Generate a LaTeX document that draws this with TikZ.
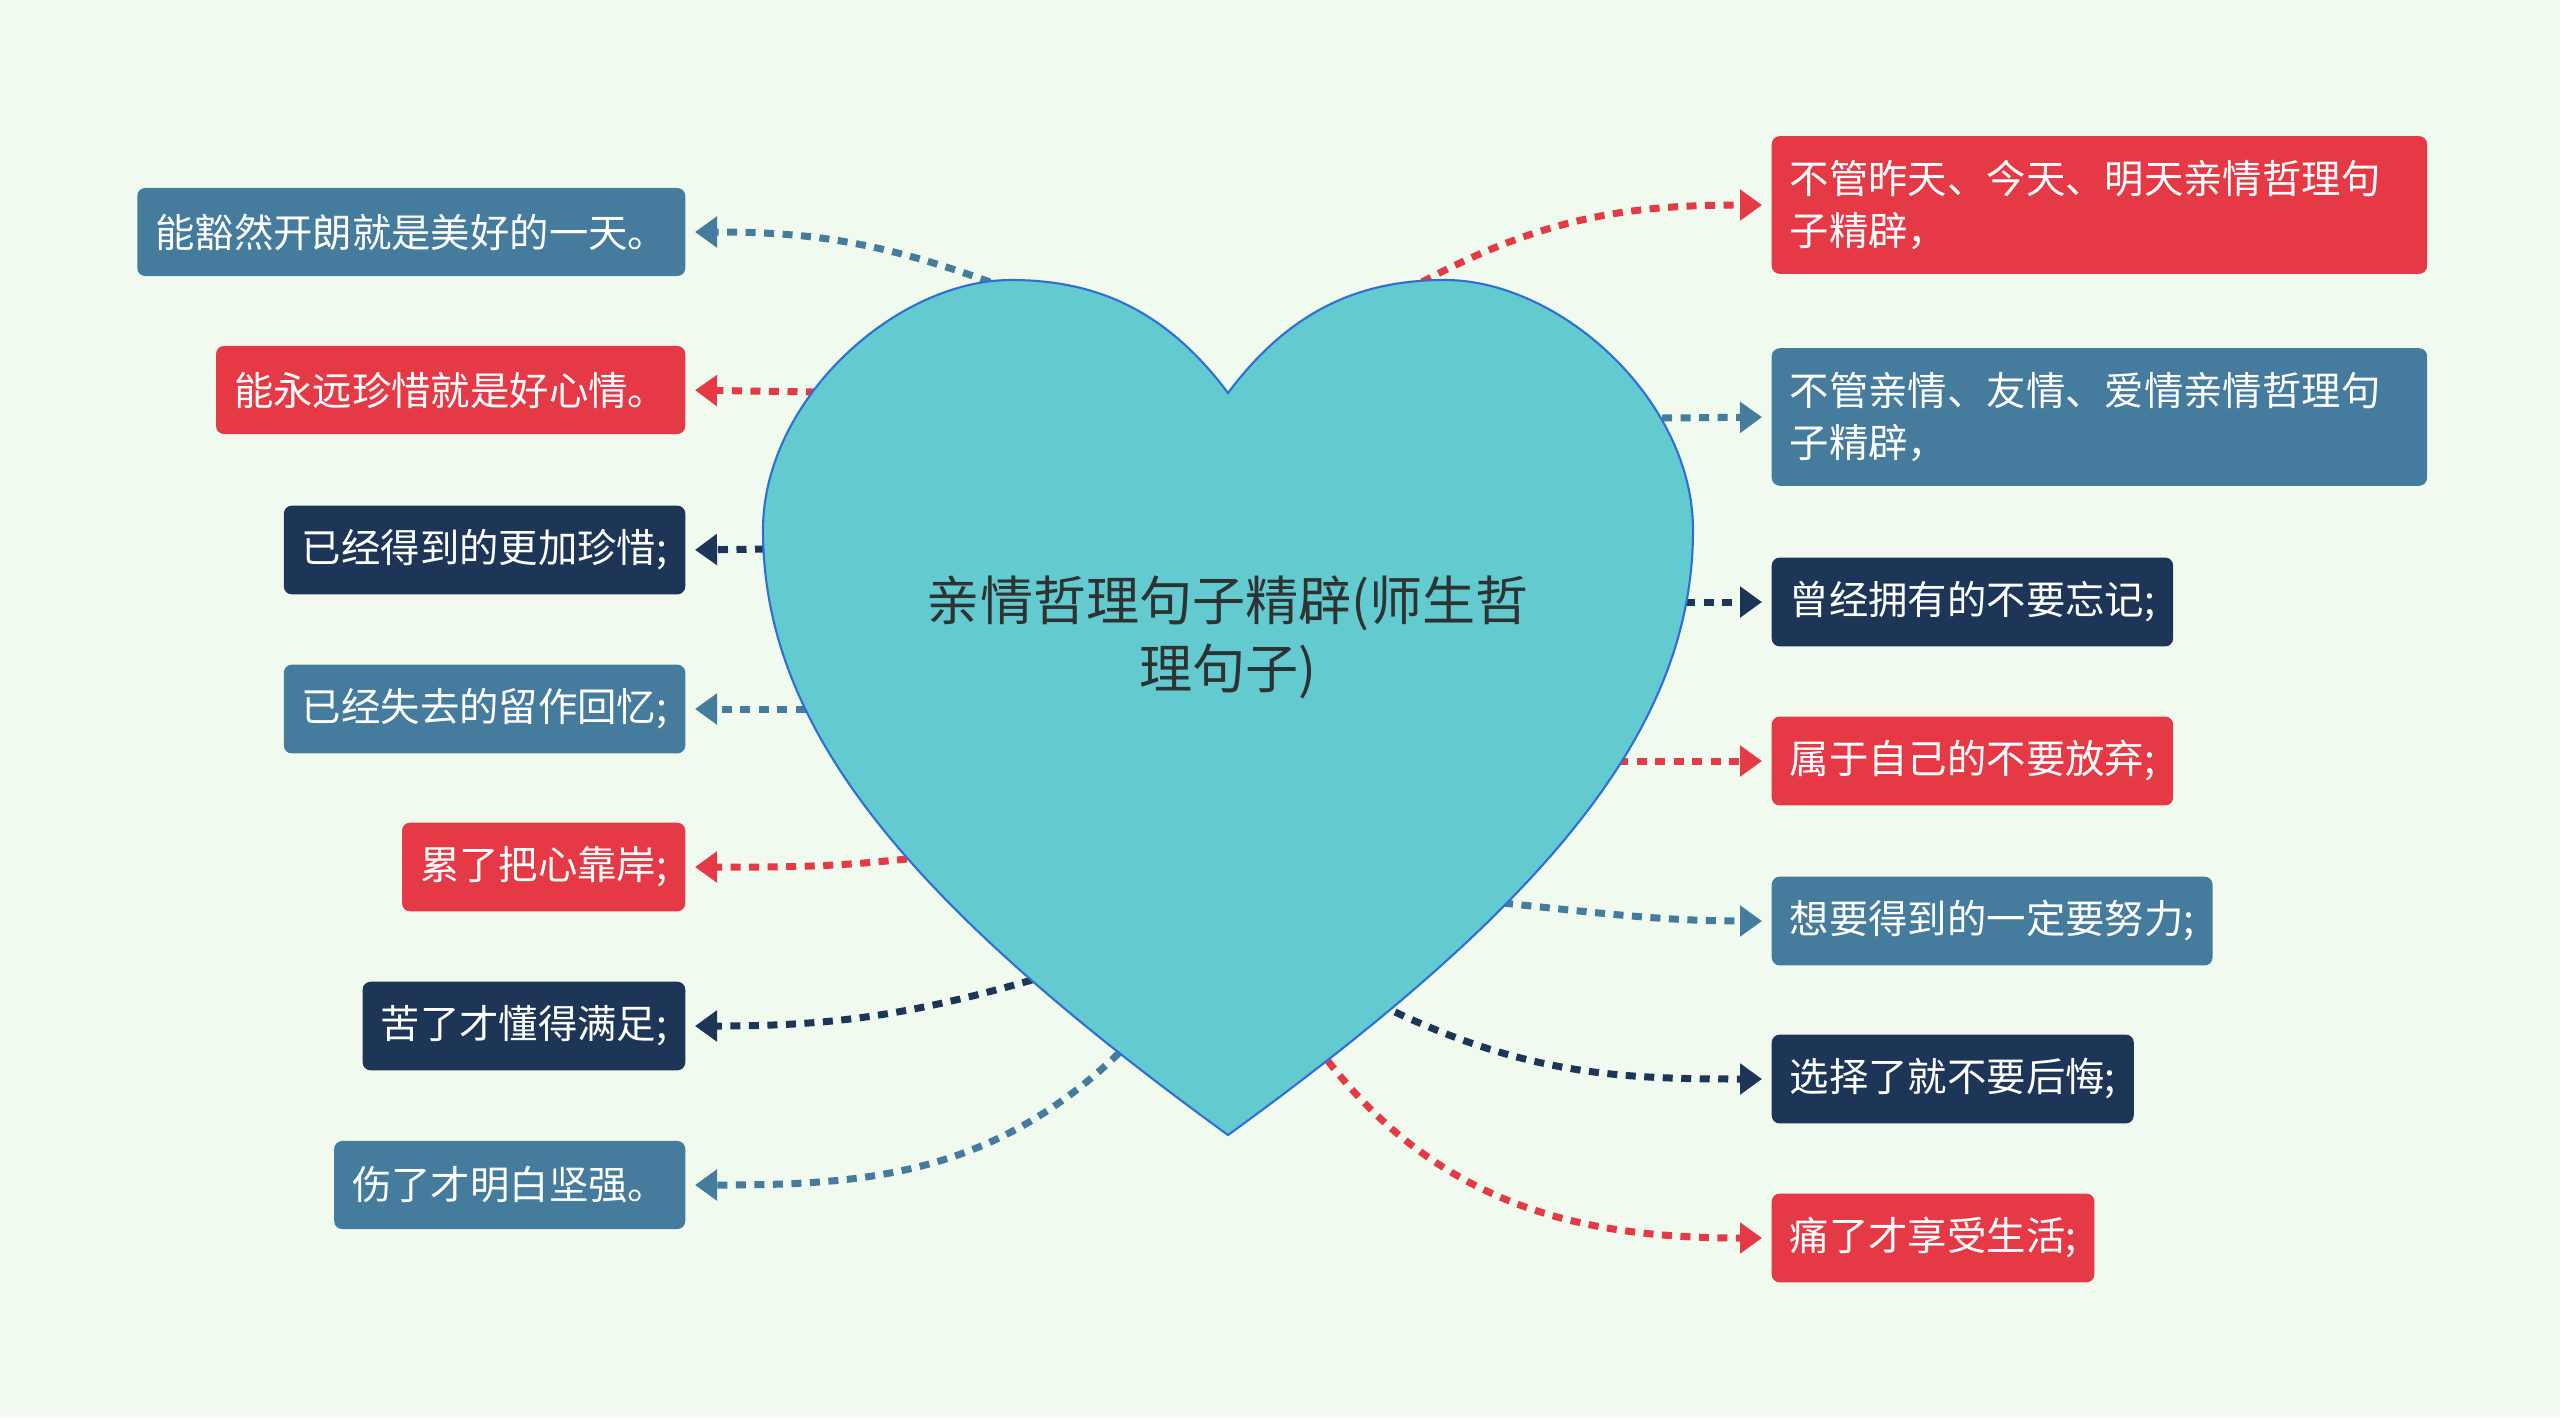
\documentclass[tikz,border=0pt]{standalone}
\usepackage{fontspec}
\setmainfont{Noto Sans CJK SC}
\usetikzlibrary{arrows.meta}
\definecolor{QinMint}{RGB}{241,250,238}
\definecolor{QinRed}{RGB}{230,57,70}
\definecolor{QinSteel}{RGB}{69,123,157}
\definecolor{QinNavy}{RGB}{29,53,87}
\definecolor{QinTeal}{RGB}{99,203,207}
\definecolor{QinEdge}{RGB}{46,111,214}
\definecolor{QinInk}{RGB}{45,50,50}
\tikzset{
  qin/box/.style={
    rounded corners=0.08cm,
    text=white,
    align=left,
    minimum height=0.88cm,
    inner xsep=0.18cm,
    inner ysep=0.24cm,
    font=\fontsize{11.2}{14.8}\selectfont
  },
  qin/wide/.style={qin/box, text width=6.19cm},
  qin/link/.style={
    -{Triangle[length=0.22cm,width=0.3cm]},
    line width=0.07cm,
    dash pattern=on 0.1cm off 0.085cm,
    shorten >=0.09cm
  },
  qin/heart/.style={fill=QinTeal, draw=QinEdge, line width=0.6pt},
  qin/title/.style={font=\fontsize{15.1}{19.3}\selectfont, text=QinInk, align=center}
}

\begin{document}
\begin{tikzpicture}[x=0.01cm,y=-0.01cm]
  \fill[QinMint] (0,0) rectangle (2560,1417);

  % left branch
  \node[qin/box,fill=QinSteel,anchor=east] (l1) at (686,232) {能豁然开朗就是美好的一天。};
  \node[qin/box,fill=QinRed,anchor=east] (l2) at (686,390) {能永远珍惜就是好心情。};
  \node[qin/box,fill=QinNavy,anchor=east] (l3) at (686,550) {已经得到的更加珍惜;};
  \node[qin/box,fill=QinSteel,anchor=east] (l4) at (686,709) {已经失去的留作回忆;};
  \node[qin/box,fill=QinRed,anchor=east] (l5) at (686,867) {累了把心靠岸;};
  \node[qin/box,fill=QinNavy,anchor=east] (l6) at (686,1026) {苦了才懂得满足;};
  \node[qin/box,fill=QinSteel,anchor=east] (l7) at (686,1185) {伤了才明白坚强。};

  % right branch
  \node[qin/wide,fill=QinRed,anchor=west] (r1) at (1771,205) {不管昨天、今天、明天亲情哲理句\\子精辟，};
  \node[qin/wide,fill=QinSteel,anchor=west] (r2) at (1771,417) {不管亲情、友情、爱情亲情哲理句\\子精辟，};
  \node[qin/box,fill=QinNavy,anchor=west] (r3) at (1771,602) {曾经拥有的不要忘记;};
  \node[qin/box,fill=QinRed,anchor=west] (r4) at (1771,761) {属于自己的不要放弃;};
  \node[qin/box,fill=QinSteel,anchor=west] (r5) at (1771,921) {想要得到的一定要努力;};
  \node[qin/box,fill=QinNavy,anchor=west] (r6) at (1771,1079) {选择了就不要后悔;};
  \node[qin/box,fill=QinRed,anchor=west] (r7) at (1771,1238) {痛了才享受生活;};

  % points on the heart outline
  \coordinate (e1) at (990,282);
  \coordinate (e2) at (816,392);
  \coordinate (e3) at (765,549);
  \coordinate (e4) at (806,709);
  \coordinate (e5) at (907,859);
  \coordinate (e6) at (1032,980);
  \coordinate (e7) at (1119,1053);
  \coordinate (f1) at (1422,282);
  \coordinate (f2) at (1662,418);
  \coordinate (f3) at (1685,602);
  \coordinate (f4) at (1618,761);
  \coordinate (f5) at (1503,903);
  \coordinate (f6) at (1395,1012);
  \coordinate (f7) at (1328,1061);

  \draw[qin/link,QinSteel] (e1) to[out=160,in=0] (l1.east);
  \draw[qin/link,QinRed] (e2) -- (l2.east);
  \draw[qin/link,QinNavy] (e3) -- (l3.east);
  \draw[qin/link,QinSteel] (e4) -- (l4.east);
  \draw[qin/link,QinRed] (e5) to[out=186,in=0] (l5.east);
  \draw[qin/link,QinNavy] (e6) to[out=196,in=0] (l6.east);
  \draw[qin/link,QinSteel] (e7) to[out=224,in=0] (l7.east);

  \draw[qin/link,QinRed] (f1) to[out=28,in=180] (r1.west);
  \draw[qin/link,QinSteel] (f2) -- (r2.west);
  \draw[qin/link,QinNavy] (f3) -- (r3.west);
  \draw[qin/link,QinRed] (f4) -- (r4.west);
  \draw[qin/link,QinSteel] (f5) to[out=-6,in=180] (r5.west);
  \draw[qin/link,QinNavy] (f6) to[out=-25,in=180] (r6.west);
  \draw[qin/link,QinRed] (f7) to[out=-52,in=180] (r7.west);

  % heart
  \path[qin/heart] (1228,393) .. controls (1290,310) and (1360,280) .. (1445,280)
    .. controls (1560,280) and (1693,400) .. (1693,530)
    .. controls (1693,730) and (1545,905) .. (1228,1135)
    .. controls (911,905) and (763,730) .. (763,530)
    .. controls (763,400) and (896,280) .. (1011,280)
    .. controls (1096,280) and (1166,310) .. cycle;
  \node[qin/title] (root) at (1228,637) {亲情哲理句子精辟(师生哲\\理句子)};
\end{tikzpicture}
\end{document}
